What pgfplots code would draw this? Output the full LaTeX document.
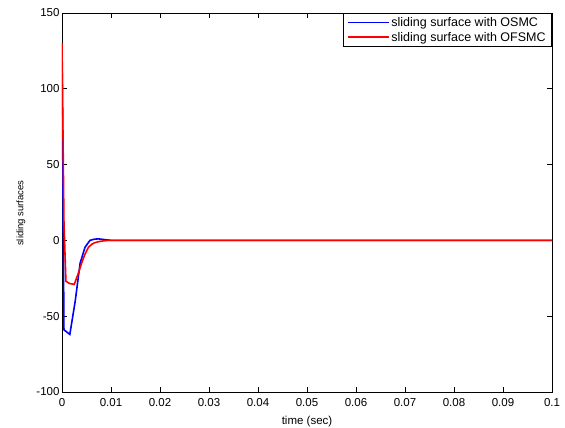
\documentclass[border=0pt]{standalone}
\usepackage{pgfplots}
\pgfplotsset{compat=1.18}
\usepackage{fontspec}
\setmainfont{Liberation Sans}
\definecolor{osmcblue}{RGB}{0,0,255}
\definecolor{ofsmcred}{RGB}{255,0,0}
\begin{document}
\begin{tikzpicture}
\begin{axis}[
  scale only axis,
  width=490pt, height=379pt,
  xmin=0, xmax=0.1, ymin=-100, ymax=150,
  xtick={0,0.01,...,0.1},
  ytick={-100,-50,0,50,100,150},
  xticklabels={0,0.01,0.02,0.03,0.04,0.05,0.06,0.07,0.08,0.09,0.1},
  scaled x ticks=false,
  /pgf/number format/assume math mode=true,
  tick align=inside,
  tick pos=both,
  major tick length=5pt,
  tick style={black, line width=0.6pt},
  axis line style={line width=0.8pt},
  tick label style={font=\fontsize{11.5}{13}\selectfont},
  xticklabel style={yshift=-3pt},
  yticklabel style={xshift=1pt},
  xlabel={time (sec)},
  ylabel={sliding surfaces},
  xlabel style={font=\fontsize{11.5}{13}\selectfont,
    at={(axis description cs:0.5,-0.077)}, anchor=center},
  ylabel style={font=\fontsize{9.5}{11}\selectfont,
    at={(axis description cs:-0.084,0.472)}, anchor=center},
  legend style={at={(1,1)}, anchor=north east, draw=black, line width=0.8pt,
    font=\fontsize{12.5}{15}\selectfont, inner xsep=4pt, inner ysep=2pt,
    cells={anchor=west}},
  legend image post style={line width=1.6pt, xscale=2.35},
  legend cell align=left,
  every axis plot/.append style={line width=1.6pt},
]
% OSMC sliding surface
\addplot[color=osmcblue] coordinates {
  (0,130) (0.0004,-59) (0.0016,-62) (0.0027,-40) (0.0037,-15)
  (0.0047,-4.5) (0.0057,0) (0.0066,0.8) (0.0074,1) (0.0085,0.6)
  (0.0101,0) (0.02,0) (0.1,0)
};
\addlegendentry{sliding surface with OSMC}
% OFSMC sliding surface
\addplot[color=ofsmcred] coordinates {
  (0,130) (0.0004,12) (0.0008,-27) (0.0016,-28.5) (0.0025,-29)
  (0.0033,-22) (0.004,-15) (0.0047,-9) (0.0054,-4.5) (0.0061,-2.5)
  (0.0067,-1.5) (0.0075,-0.8) (0.0085,-0.3) (0.0095,0) (0.1,0)
};
\addlegendentry{sliding surface with OFSMC}
\end{axis}
\pgfresetboundingbox
\useasboundingbox (-62pt,-36pt) rectangle (503pt,392pt);
\end{tikzpicture}
\end{document}
